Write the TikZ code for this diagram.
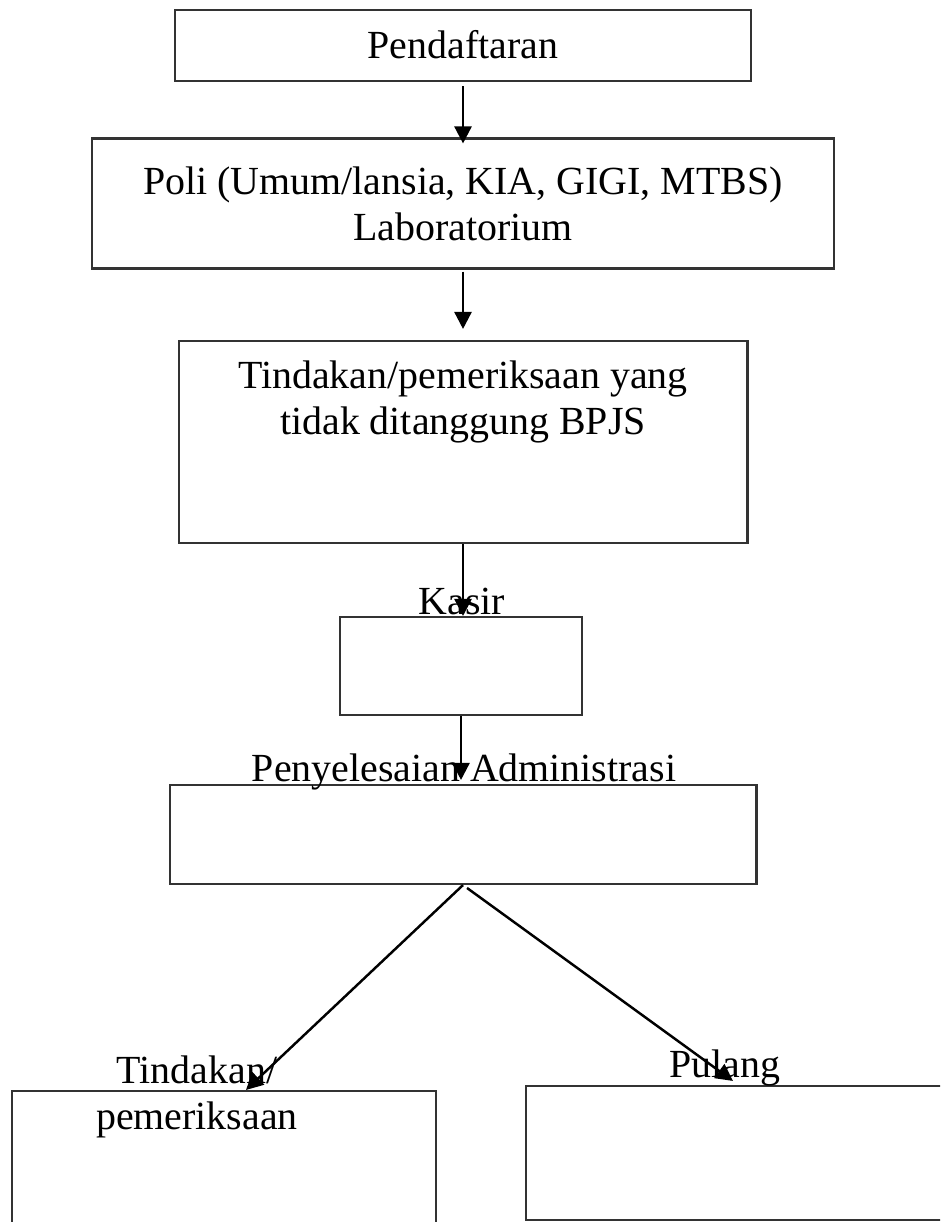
\documentclass[tikz,border=0pt]{standalone}
\usepackage{fontspec}
\setmainfont{Liberation Serif}
\usetikzlibrary{arrows.meta}

\begin{document}
\begin{tikzpicture}[
    x=0.02cm, y=-0.02cm,
    box/.style={rectangle, draw=black!80, line width=1.2pt, inner sep=0pt},
    txt/.style={font=\fontsize{22.7}{26.2}\selectfont, inner sep=0pt, align=center},
    link/.style={draw, line width=1.4pt, -{Triangle[length=0.34cm, width=0.34cm]}}
]
  \clip (0,0) rectangle (940,1222);
  \node[box, txt, minimum width=11.52cm, minimum height=1.42cm, text depth=0.06cm] (daftar) at (463,45.5) {Pendaftaran};
  \node[box, txt, minimum width=14.84cm, minimum height=2.6cm] (poli) at (463,203.5) {Poli (Umum/lansia, KIA, GIGI, MTBS)\\Laboratorium};
  \node[box, minimum width=11.38cm, minimum height=4.04cm] (tindakan) at (463,442) {};
  \node[txt, anchor=north] (tindakantxt) at (463,360) {Tindakan/pemeriksaan yang\\tidak ditanggung BPJS};
  \node[box, minimum width=4.84cm, minimum height=1.96cm] (kasir) at (461,666) {};
  \node[box, minimum width=11.74cm, minimum height=1.98cm] (admin) at (463,834.5) {};
  \node[box, minimum width=8.48cm, minimum height=3.38cm] (periksa) at (224,1175.5) {};
  \node[box, minimum width=8.68cm, minimum height=2.68cm] (pulang) at (743,1153) {};

  \node[txt, anchor=base] (kasirtxt) at (462,614) {Kasir};
  \node[txt, anchor=base] (admintxt) at (464,781) {Penyelesaian Administrasi};
  \node[txt, anchor=north] (periksatxt) at (197,1055) {Tindakan/\\pemeriksaan};
  \node[txt, anchor=base] (pulangtxt) at (725,1077) {Pulang};

  \draw[link, shorten <=0.08cm, shorten >=-0.12cm] (daftar) -- (poli);
  \draw[link, shorten <=0.04cm, shorten >=0.22cm] (poli) -- (tindakan);
  \draw[link] (tindakan.south) -- (tindakan.south |- kasir.north);
  \draw[link, shorten >=0.08cm] (kasir.south) -- (kasir.south |- admin.north);
  \draw[link] (admin.south) -- ([xshift=0.44cm]periksa.north);
  \draw[link, shorten <=0.1cm] (admin.south) -- ([xshift=-0.2cm, yshift=0.08cm]pulang.north);
\end{tikzpicture}
\end{document}
